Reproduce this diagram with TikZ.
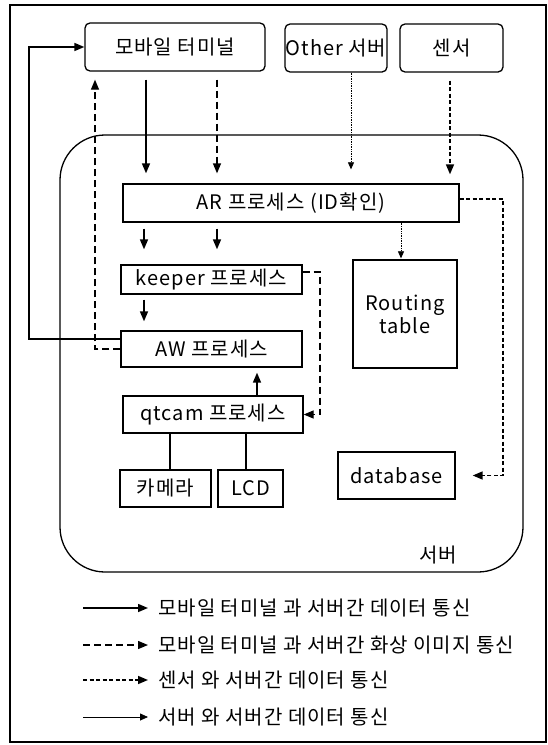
\documentclass[tikz,border=0pt]{standalone}
\usepackage{fontspec}
\setmainfont[LetterSpace=5]{Noto Sans CJK KR}
\usetikzlibrary{arrows.meta,calc}
\begin{document}
\begin{tikzpicture}[x=1pt,y=-1pt,
  box/.style={draw, line width=1.3pt, inner sep=0pt, font=\fontsize{20}{23}\selectfont},
  rbox/.style={box, rounded corners=5pt},
  tip/.style={-{Triangle[length=10pt,width=8pt]}},
  data/.style={tip, line width=1.5pt},
  img/.style={tip, line width=1.3pt, dash pattern=on 7pt off 4pt},
  sens/.style={tip, line width=1.6pt, dash pattern=on 4pt off 2.5pt},
  srvdot/.style={-{Triangle[length=7pt,width=6pt]}, line width=0.7pt, densely dotted},
  srvline/.style={-{Triangle[length=8pt,width=7pt]}, line width=0.8pt},
  plain/.style={line width=1.3pt},
  leg/.style={inner sep=0pt, anchor=west, font=\fontsize{20}{23}\selectfont}]
\useasboundingbox (0,0) rectangle (548,745);
\draw[line width=1.3pt] (10,5) rectangle (546,742);
% server container
\node[draw, line width=1.3pt, rounded corners=45pt, minimum width=463pt, minimum height=437pt, inner sep=0pt] (srvbox) at (291.5,353.5) {};
\node[font=\fontsize{20}{23}\selectfont, inner sep=0pt] (srvlbl) at (438,555) {서버};
% top boxes
\node[rbox, minimum width=180pt, minimum height=48pt] (mob) at (175,47) {모바일 터미널};
\node[rbox, minimum width=102pt, minimum height=48pt] (oth) at (336,48) {Other 서버};
\node[rbox, minimum width=103pt, minimum height=48pt] (sen) at (451.5,48) {센서};
% processes
\node[box, minimum width=336pt, minimum height=38pt] (ar) at (291,203) {AR 프로세스 (ID확인)};
\node[box, minimum width=181pt, minimum height=29pt] (kp) at (211.5,279.5) {keeper 프로세스};
\node[box, minimum width=181pt, minimum height=36pt] (aw) at (211.5,349) {AW 프로세스};
\node[box, minimum width=180pt, minimum height=37pt] (qt) at (213,414.5) {qtcam 프로세스};
\node[box, minimum width=91pt, minimum height=37pt] (cam) at (165.5,488.5) {카메라};
\node[box, minimum width=65pt, minimum height=37pt] (lcd) at (250.5,488.5) {LCD};
\node[box, minimum width=104pt, minimum height=108pt, align=center] (rt) at (405,314) {Routing\\table};
\node[box, minimum width=117pt, minimum height=47pt] (db) at (396.5,475.5) {database};
% column coordinates
\coordinate (c1) at (146,0);
\coordinate (c2) at (217,0);
\coordinate (c3) at (351,0);
\coordinate (c4) at (450,0);
\coordinate (c5) at (144,0);
\coordinate (c6) at (401,0);
\coordinate (c7) at (257,0);
\coordinate (c8) at (170,0);
\coordinate (c9) at (246,0);
\coordinate (cl) at (29,0);
\coordinate (cd) at (95,0);
\coordinate (ck) at (320,0);
\coordinate (cr) at (503,0);
% connectors into AR
\draw[data, shorten <=8pt, shorten >=10pt] (mob.south -| c1) -- (ar.north -| c1);
\draw[img, shorten <=8pt, shorten >=10pt] (mob.south -| c2) -- (ar.north -| c2);
\draw[srvdot, shorten >=14pt] (oth.south -| c3) -- (ar.north -| c3);
\draw[sens, shorten <=8pt, shorten >=9pt] (sen.south -| c4) -- (ar.north -| c4);
% AR to keeper, keeper to AW
\draw[data, shorten <=6pt, shorten >=15pt] (ar.south -| c5) -- (kp.north -| c5);
\draw[data, shorten <=6pt, shorten >=15pt] (ar.south -| c2) -- (kp.north -| c2);
\draw[data, shorten <=5pt, shorten >=9pt] (kp.south -| c5) -- (aw.north -| c5);
% AR to routing table
\draw[srvdot, shorten >=1pt] (ar.south -| c6) -- (rt.north -| c6);
% AR to database
\draw[sens, shorten >=17pt] ([yshift=4pt]ar.east) -| (cr |- db.east) -- (db.east);
% keeper to qtcam
\draw[img] ([yshift=7.5pt]kp.east) -| (ck |- qt.east) -- (qt.east);
% qtcam to AW
\draw[data, shorten >=5pt] (qt.north -| c7) -- (aw.south -| c7);
% qtcam to devices
\draw[plain] (qt.south -| c8) -- (cam.north -| c8);
\draw[plain] (qt.south -| c9) -- (lcd.north -| c9);
% AW back to mobile
\draw[data] ([yshift=10pt]aw.west) -| (cl |- mob.west) -- (mob.west);
\draw[img, shorten >=8pt] (aw.west) -| (cd |- mob.south);
% legend
\node[leg] (t1) at (158,608) {모바일 터미널 과 서버간 데이터 통신};
\node[leg] (t2) at (158,645) {모바일 터미널 과 서버간 화상 이미지 통신};
\node[leg] (t3) at (158,680) {센서 와 서버간 데이터 통신};
\node[leg] (t4) at (158,717) {서버 와 서버간 데이터 통신};
\coordinate (l1) at (83,608);
\coordinate (l2) at (83,645);
\coordinate (l3) at (83,680);
\coordinate (l4) at (83,717);
\draw[data, shorten >=10pt] (l1) -- (t1.west);
\draw[img, shorten >=10pt] (l2) -- (t2.west);
\draw[sens, shorten >=10pt] (l3) -- (t3.west);
\draw[srvline, shorten >=10pt] (l4) -- (t4.west);
\end{tikzpicture}
\end{document}
